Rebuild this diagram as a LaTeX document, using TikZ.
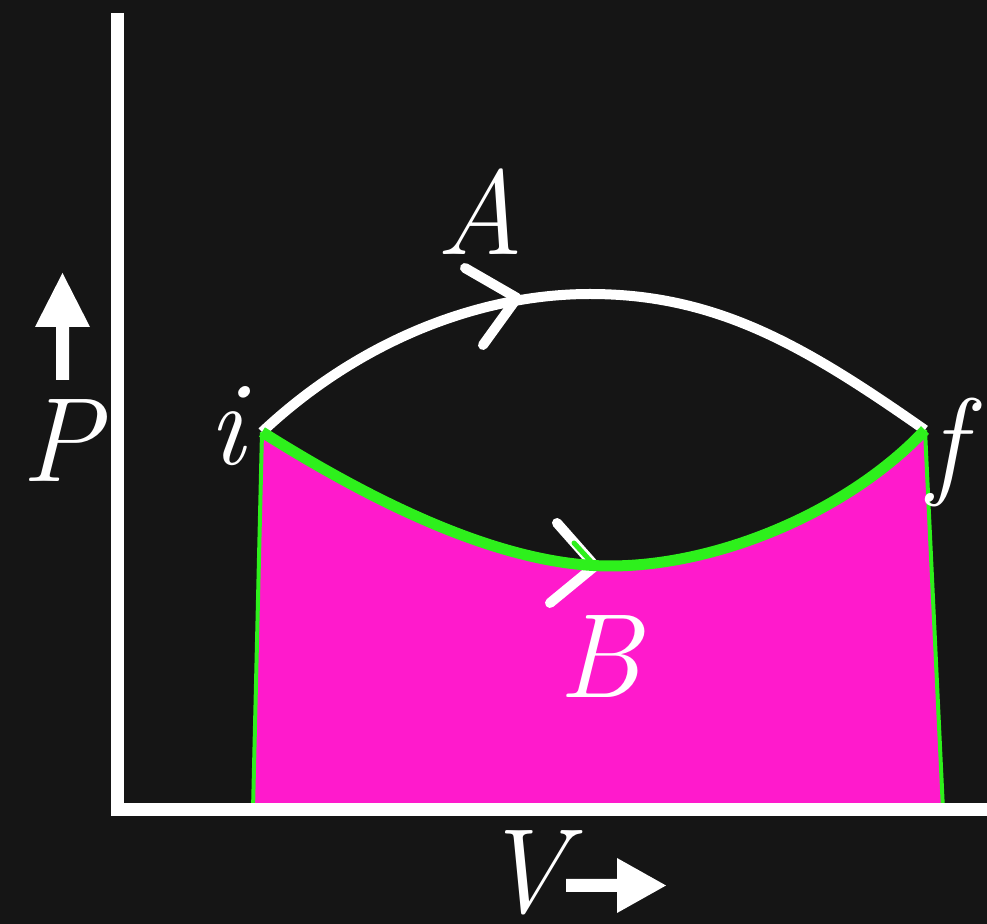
\documentclass[tikz,border=0pt]{standalone}
\usepackage{fontspec}
\definecolor{bg}{HTML}{151515}
\definecolor{mag}{HTML}{FF1ACC}
\definecolor{grn}{HTML}{2EF01C}
\begin{document}
\begin{tikzpicture}[x=0.5pt,y=-0.5pt,
  lbl/.style={font=\fontsize{60}{60}\selectfont\itshape, text=white, inner sep=0pt},
  pathA/.style={white, line width=5pt},
  pathB/.style={grn, line width=5.5pt},
  chev/.style={white, line width=5pt, line cap=round, line join=round},
  edge/.style={grn, line width=2pt},
  axis/.style={white, line width=6.5pt}]
\fill[bg] (0,0) rectangle (987,924);
\useasboundingbox (0,0) rectangle (987,924);
\coordinate (i) at (262,432);
\coordinate (f) at (925,430);
\coordinate (ib) at (253,810);
\coordinate (fb) at (943,810);
\coordinate (pA) at (590,294);
\coordinate (pB) at (610,566);
\coordinate (top) at (117,13);
\coordinate (origin) at (117,810);
\coordinate (xend) at (987,810);
% shaded area
\fill[mag] (i) .. controls (370,500) and (500,566) .. (pB) .. controls (720,566) and (850,510) .. (f) -- (fb) -- (ib) -- cycle;
\draw[edge] (i) -- (ib);
\draw[edge] (f) -- (fb);
% path A
\draw[pathA] (i) .. controls (360,340) and (480,294) .. (pA) .. controls (717,294) and (805,346) .. (f);
\coordinate (tA) at (517,298);
\coordinate (uA) at (465,268);
\coordinate (lA) at (483,345);
\draw[chev] (uA) -- (tA) -- (lA);
% path B
\coordinate (tB) at (595,566);
\coordinate (uB) at (557,523);
\coordinate (lB) at (550,603);
\draw[chev] (uB) -- (tB) -- (lB);
\draw[white, line width=1.2pt, yshift=2.7pt] (i) .. controls (370,500) and (500,566) .. (pB) .. controls (720,566) and (850,510) .. (f);
\draw[pathB] (i) .. controls (370,500) and (500,566) .. (pB) .. controls (720,566) and (850,510) .. (f);
\draw[grn, line width=2.5pt, line cap=round] (574,543) -- (tB);
% axes
\draw[axis, line join=miter] (top) -- (origin) -- (xend);
% axis arrows
\fill[white] (62.5,273) -- (90,327) -- (69,327) -- (69,380) -- (56,380) -- (56,327) -- (35,327) -- cycle;
\fill[white] (666,885.5) -- (617,858) -- (617,879) -- (566,879) -- (566,892) -- (617,892) -- (617,913) -- cycle;
% labels
\node[lbl] (labA) at (480,212) {A};
\node[lbl] (labB) at (600,657) {B};
\node[lbl] (labi) at (226,426) {i};
\node[lbl] (labf) at (946,453) {f};
\node[lbl] (labP) at (61,441) {P};
\node[lbl] (labV) at (524,873) {V};
\end{tikzpicture}
\end{document}
